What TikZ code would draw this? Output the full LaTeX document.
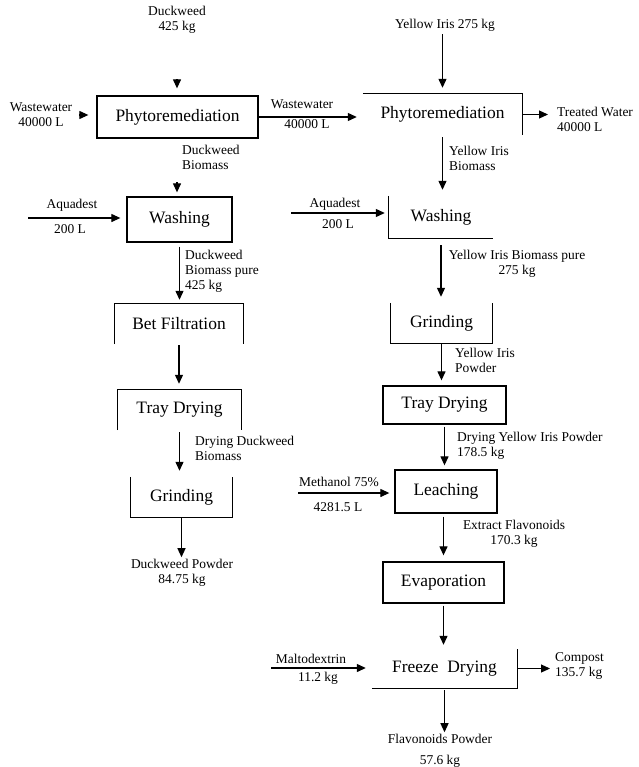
\documentclass[tikz,border=0pt]{standalone}
\usepackage{fontspec}
\setmainfont{Liberation Serif}
\usetikzlibrary{arrows.meta}
\begin{document}
\begin{tikzpicture}[x=1bp,y=-1bp,
  obox/.style={draw=none,inner sep=0pt,font=\fontsize{17.5}{20}\selectfont},
  fbox/.style={obox,draw,line width=1.3bp},
  edge/.style={line width=1.3bp},
  lbl/.style={inner sep=0pt,align=center,font=\fontsize{13.5}{15}\selectfont},
  lbll/.style={lbl,align=left,anchor=west},
  arr/.style={line width=1.2bp,-{Triangle[length=9bp,width=8bp]}}]
\fill[white] (0,0) rectangle (639,767);
\useasboundingbox (0,0) rectangle (639,767);

% ---------- left column ----------
\node[fbox,minimum width=161bp,minimum height=42bp] (lp) at (177.5,117) {Phytoremediation};
\node[fbox,minimum width=105bp,minimum height=45bp] (lw) at (179.5,219.5) {Washing};
\node[obox,minimum width=128bp,minimum height=40bp] (lbf) at (179,324) {Bet Filtration};
\draw[edge] (lbf.south west) -- (lbf.north west) -- (lbf.north east) -- (lbf.south east);
\node[obox,minimum width=123bp,minimum height=40bp] (ltd) at (179.5,410) {Tray Drying};
\draw[edge] (ltd.south west) -- (ltd.north west) -- (ltd.north east) -- (ltd.south east);
\node[obox,minimum width=101bp,minimum height=40bp] (lg) at (181.5,497) {Grinding};
\draw[edge] (lg.north west) -- (lg.south west) -- (lg.south east) -- (lg.north east);

% ---------- right column ----------
\node[obox,minimum width=159bp,minimum height=41bp] (rp) at (442.5,114.5) {Phytoremediation};
\draw[edge] (rp.north west) -- (rp.north east) -- (rp.south east);
\node[obox,minimum width=104bp,minimum height=42bp] (rw) at (441,217) {Washing};
\draw[edge] (rw.north west) -- (rw.south west) -- (rw.south east);
\node[obox,minimum width=101bp,minimum height=40bp] (rg) at (441.5,323) {Grinding};
\draw[edge] (rg.north west) -- (rg.south west) -- (rg.south east) -- (rg.north east);
\node[fbox,minimum width=123bp,minimum height=38bp] (rtd) at (444.5,405) {Tray Drying};
\node[fbox,minimum width=102bp,minimum height=43bp] (rl) at (446,491.5) {Leaching};
\node[fbox,minimum width=121bp,minimum height=41bp] (re) at (443.5,582.5) {Evaporation};
\node[obox,minimum width=145bp,minimum height=39bp] (rf) at (444.5,668.5) {Freeze\ \ Drying};
\draw[edge] (rf.south west) -- (rf.south east) -- (rf.north east);

% ---------- labels ----------
\node[lbl] (dk) at (177,20) {Duckweed\\425 kg};
\node[lbl] (ww) at (41,115) {Wastewater\\40000 L};
\node[lbl] (wwm1) at (302,104) {Wastewater};
\node[lbl] (wwm2) at (307,124) {40000 L};
\node[lbll] (tw) at (557,119) {Treated Water\\40000 L};
\node[lbl] (yi) at (445,25) {Yellow Iris 275 kg};
\node[lbll] (dbm) at (182,157) {Duckweed\\Biomass};
\node[lbl] (aql1) at (72,205) {Aquadest};
\node[lbl] (aql2) at (70,229) {200 L};
\node[lbll] (dbp) at (185,271) {Duckweed\\Biomass pure\\425 kg};
\node[lbll] (ddb) at (195,448) {Drying Duckweed\\Biomass};
\node[lbl] (dp) at (182,573) {Duckweed Powder\\84.75 kg};
\node[lbll] (yib) at (449,158) {Yellow Iris\\Biomass};
\node[lbl] (aqr1) at (335,204) {Aquadest};
\node[lbl] (aqr2) at (338,224) {200 L};
\node[lbl] (yibp) at (517,264) {Yellow Iris Biomass pure\\275 kg};
\node[lbll] (yip) at (455,360) {Yellow Iris\\Powder};
\node[lbll] (dyip) at (457,446) {Drying Yellow Iris Powder\\178.5 kg};
\node[lbl] (mel1) at (339,482) {Methanol 75\%};
\node[lbl] (mel2) at (338,507) {4281.5 L};
\node[lbl] (ef) at (514,534) {Extract Flavonoids\\170.3 kg};
\node[lbl] (mal1) at (311,659) {Maltodextrin};
\node[lbl] (mal2) at (318,678) {11.2 kg};
\node[lbll] (cp) at (555,666) {Compost\\135.7 kg};
\node[lbl,font=\fontsize{13.5}{21}\selectfont] (fp) at (440,751) {Flavonoids Powder\\57.6 kg};

% ---------- free ends ----------
\coordinate (dkarr) at (177,79);
\coordinate (wwarr) at (79,115);
\coordinate (lpb) at (177,182);
\coordinate (aq1) at (28,218);
\coordinate (aq2) at (291,213);
\coordinate (me) at (298,493);
\coordinate (ma) at (271,668);

% ---------- connectors ----------
\draw[arr,shorten >=7bp] (dkarr) -- (dkarr |- lp.north);
\draw[arr,shorten >=8bp] (wwarr) -- (wwarr -| lp.west);
\draw[arr,shorten >=6bp] (lp.east) -- (lp.east -| rp.west);
\draw[arr,shorten >=9bp] (rp.east) -- (rp.east -| tw.west);
\draw[arr,shorten <=3bp,shorten >=6bp] (rp.north |- yi.south) -- (rp.north);
\draw[arr,shorten >=4bp] (lpb) -- (lpb |- lw.north);
\draw[arr,shorten >=6bp] (aq1) -- (aq1 -| lw.west);
\draw[arr,shorten <=4bp,shorten >=4bp] (lw.south) -- (lw.south |- lbf.north);
\draw[arr,shorten <=1bp,shorten >=6bp] (lbf.south) -- (lbf.south |- ltd.north);
\draw[arr,shorten <=2bp,shorten >=6bp] (ltd.south) -- (ltd.south |- lg.north);
\draw[arr,shorten >=2bp] (lg.south) -- (lg.south |- dp.north);

\draw[arr,shorten <=2bp,shorten >=6bp] (rp.south) -- (rp.south |- rw.north);
\draw[arr,shorten >=4bp] (aq2) -- (aq2 -| rw.west);
\draw[arr,shorten <=7bp,shorten >=6bp] (rw.south) -- (rw.south |- rg.north);
\draw[arr,shorten >=5bp] (rg.south) -- (rg.south |- rtd.north);
\draw[arr,shorten <=2bp,shorten >=4bp] (rtd.south) -- (rtd.south |- rl.north);
\draw[arr,shorten >=5bp] (me) -- (me -| rl.west);
\draw[arr,shorten <=3bp,shorten >=6bp] (re.north |- rl.south) -- (re.north);
\draw[arr,shorten <=2bp,shorten >=4bp] (re.south) -- (re.south |- rf.north);
\draw[arr,shorten >=6bp] (ma) -- (ma -| rf.west);
\draw[arr,shorten <=1bp,shorten >=5bp] (rf.east) -- (rf.east -| cp.west);
\draw[arr,shorten <=2bp,shorten >=2bp] (rf.south) -- (rf.south |- fp.north);
\end{tikzpicture}
\end{document}
